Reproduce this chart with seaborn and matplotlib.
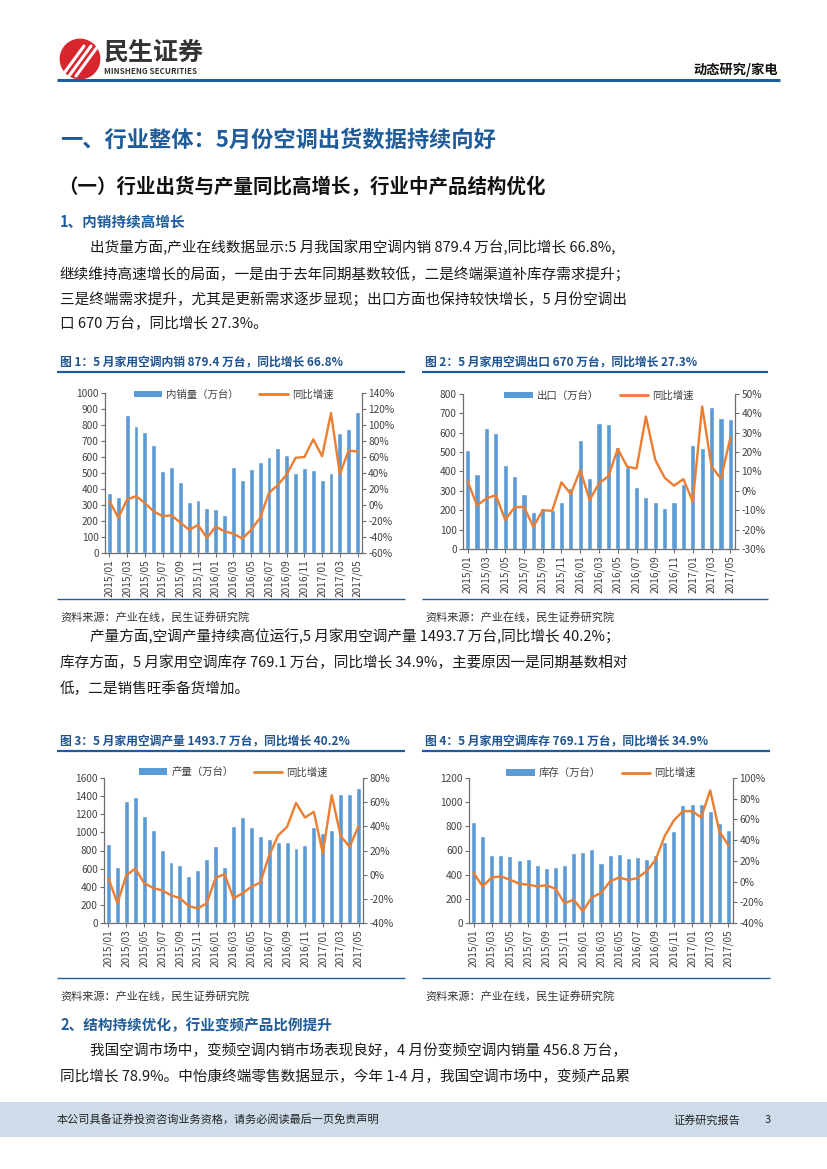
import numpy as np
import pandas as pd
import matplotlib
matplotlib.use("Agg")
import matplotlib.pyplot as plt
import matplotlib.ticker as mticker
from matplotlib.patches import Rectangle, Circle, Patch
from matplotlib.lines import Line2D
import seaborn as sns

# --- data ---
MONTHS = ["2015/01", "2015/02", "2015/03", "2015/04", "2015/05", "2015/06",
          "2015/07", "2015/08", "2015/09", "2015/10", "2015/11", "2015/12",
          "2016/01", "2016/02", "2016/03", "2016/04", "2016/05", "2016/06",
          "2016/07", "2016/08", "2016/09", "2016/10", "2016/11", "2016/12",
          "2017/01", "2017/02", "2017/03", "2017/04", "2017/05"]

domestic = [375, 350, 862, 792, 756, 673, 515, 535, 446, 317, 329, 281, 277, 235,
            537, 458, 525, 569, 598, 656, 612, 502, 531, 519, 454, 502, 750, 775, 879.4]
domestic_yoy = [5, -16, 7, 11, 2.5, -8, -14, -13, -22, -31, -25, -41, -27, -33,
                -36, -42, -31, -16, 15, 25, 38, 59, 60, 82, 61, 115, 39, 68, 66.8]

export = [511, 385, 625, 598, 432, 378, 283, 190, 211, 200, 240, 313, 565, 364,
          648, 645, 528, 425, 321, 266, 243, 214, 243, 333, 535, 522, 731, 677, 670]
export_yoy = [4.8, -7.5, -3.9, -2.2, -15, -8.5, -8.2, -18.6, -10, -10.3, 4.4, -1.6,
              10.8, -4.7, 3.9, 7.5, 21.7, 12.5, 11.5, 38.4, 16, 6.8, 2.7, 6.1,
              -5.6, 43.6, 12.5, 6.3, 27.3]

production = [868, 623, 1344, 1385, 1183, 1026, 806, 678, 637, 520, 582, 703, 850, 619,
              1073, 1165, 1062, 960, 923, 897, 890, 828, 857, 1062, 996, 1026, 1421,
              1428, 1493.7]
production_yoy = [-3, -23.6, -0.5, 5, -7, -11, -13, -17, -19.5, -26, -28, -23.6, -2.5,
                  0.3, -19.6, -15.5, -10, -6.5, 16, 32.5, 39.6, 59.4, 47.3, 52, 17.6,
                  65.7, 32, 23, 40.2]

inventory = [839, 723, 566, 560, 552, 524, 530, 483, 458, 463, 477, 582, 588, 610,
             497, 560, 571, 535, 549, 527, 560, 673, 761, 977, 985, 988, 930, 825, 769.1]
inventory_yoy = [8.3, -4.6, 4, 5, 1.8, -2, -3, -4.6, -3.6, -7, -21, -17.5, -28.7, -15.2,
                 -11, 0.2, 4, 1.5, 3.4, 10, 21, 44, 59, 68, 68, 62, 88, 48.5, 34.9]

# --- style ---
BAR = "#5B9BD5"
LINE = "#ED7D31"
BLUE = "#1F5C99"
TITLE_BLUE = "#1D5390"
AXIS = "#6E6E6E"
TEXT = "#404040"
BODY = "#1A1A1A"

sns.set_theme(style="white")
plt.rcParams["font.family"] = ["Noto Sans CJK SC", "DejaVu Sans"]
plt.rcParams["axes.unicode_minus"] = False

W, H = 827, 1169
fig = plt.figure(figsize=(8.27, 11.69), dpi=100)
fig.patch.set_facecolor("white")

# page layer in pixel coordinates
bg = fig.add_axes([0, 0, 1, 1])
bg.set_xlim(0, W)
bg.set_ylim(H, 0)
bg.axis("off")


def txt(x, y, s, size, color=BODY, weight="normal", ha="left"):
    bg.text(x, y, s, fontsize=size, color=color, fontweight=weight, ha=ha, va="center")


def hline(x0, x1, y, lw, color=BLUE):
    bg.plot([x0, x1], [y, y], color=color, lw=lw, solid_capstyle="butt")


# --- header ---
bg.add_patch(Circle((80, 59), 19, color="#D7262D"))
for dx in (-7, 0, 7):
    bg.plot([69 + dx, 91 + dx], [76, 46], color="white", lw=2.2, solid_capstyle="round")
bg.add_patch(Circle((80, 59), 19, fill=False, ec="#D7262D", lw=2))
txt(104, 53, "民生证券", 18, color="#333333", weight="bold")
txt(104, 71.5, "MINSHENG SECURITIES", 5.8, color="#333333", weight="bold")
txt(778, 70, "动态研究/家电", 9.5, color="#111111", weight="bold", ha="right")
hline(57, 780, 80, 2.2)

# --- headings & paragraphs ---
txt(60, 140, "一、行业整体：5月份空调出货数据持续向好", 16, color=BLUE, weight="bold")
txt(58, 187, "（一）行业出货与产量同比高增长，行业中产品结构优化", 14, color="#111111", weight="bold")
txt(60, 222, "1、内销持续高增长", 10.5, color=BLUE, weight="bold")

para1 = ["出货量方面,产业在线数据显示:5 月我国家用空调内销 879.4 万台,同比增长 66.8%,",
         "继续维持高速增长的局面，一是由于去年同期基数较低，二是终端渠道补库存需求提升；",
         "三是终端需求提升，尤其是更新需求逐步显现；出口方面也保持较快增长，5 月份空调出",
         "口 670 万台，同比增长 27.3%。"]
for i, (y, line) in enumerate(zip([248, 274, 299, 324], para1)):
    txt(90 if i == 0 else 60, y, line, 10.5)

para2 = ["产量方面,空调产量持续高位运行,5 月家用空调产量 1493.7 万台,同比增长 40.2%；",
         "库存方面，5 月家用空调库存 769.1 万台，同比增长 34.9%，主要原因一是同期基数相对",
         "低，二是销售旺季备货增加。"]
for i, (y, line) in enumerate(zip([637, 663, 689], para2)):
    txt(90 if i == 0 else 60, y, line, 10.5)

txt(60, 1025, "2、结构持续优化，行业变频产品比例提升", 10.5, color=BLUE, weight="bold")
para3 = ["我国空调市场中，变频空调内销市场表现良好，4 月份变频空调内销量 456.8 万台，",
         "同比增长 78.9%。中怡康终端零售数据显示，今年 1-4 月，我国空调市场中，变频产品累"]
for i, (y, line) in enumerate(zip([1051, 1077], para3)):
    txt(90 if i == 0 else 60, y, line, 10.5)

# --- chart frames: titles, rules, sources ---
frames = [
    (57, 405, 60, 362, 372, 599, 617, "图 1：5 月家用空调内销 879.4 万台，同比增长 66.8%"),
    (422, 768, 425, 362, 372, 599, 617, "图 2：5 月家用空调出口 670 万台，同比增长 27.3%"),
    (57, 405, 60, 741, 751, 978, 996, "图 3：5 月家用空调产量 1493.7 万台，同比增长 40.2%"),
    (422, 770, 425, 741, 751, 978, 996, "图 4：5 月家用空调库存 769.1 万台，同比增长 34.9%"),
]
for x0, x1, tx, ty, y_top, y_bot, y_src, title in frames:
    txt(tx, ty, title, 8.5, color=TITLE_BLUE, weight="bold")
    hline(x0, x1, y_top, 1.6)
    hline(x0, x1, y_bot, 1.0)
    txt(tx, y_src, "资料来源：产业在线，民生证券研究院", 8, color="#333333")

# --- footer ---
bg.add_patch(Rectangle((0, 1102), W, 35, color="#CEDCEA", lw=0))
txt(57, 1120, "本公司具备证券投资咨询业务资格，请务必阅读最后一页免责声明", 8, color="#222222")
txt(673, 1120, "证券研究报告", 8, color="#222222")
txt(768, 1120, "3", 8, color="#222222", ha="center")


def px_rect(left, right, top, bottom):
    return [left / W, 1 - bottom / H, (right - left) / W, (bottom - top) / H]


def draw_chart(rect, values, yoy, bar_label, ymax, ystep, pmin, pmax, pstep, legend_y):
    ax = fig.add_axes(rect)
    df = pd.DataFrame({"month": MONTHS, "value": values, "yoy": yoy})
    sns.barplot(data=df, x="month", y="value", color=BAR, saturation=1,
                width=0.55, ax=ax)
    ax2 = ax.twinx()
    sns.lineplot(x=np.arange(len(MONTHS)), y=df["yoy"].values, color=LINE,
                 lw=1.7, ax=ax2)

    ax.set_xlim(-0.5, len(MONTHS) - 0.5)
    ax.set_ylim(0, ymax)
    ax.set_yticks(np.arange(0, ymax + 1, ystep))
    ax2.set_ylim(pmin, pmax)
    ax2.set_yticks(np.arange(pmin, pmax + 1, pstep))
    ax2.yaxis.set_major_formatter(mticker.FuncFormatter(lambda v, p: f"{v:.0f}%"))

    ax.set_xticks(range(0, len(MONTHS), 2))
    ax.set_xticklabels(MONTHS[::2], rotation=90)
    ax.set_xlabel("")
    ax.set_ylabel("")
    ax2.set_ylabel("")

    for a in (ax, ax2):
        for s in a.spines.values():
            s.set_color(AXIS)
            s.set_linewidth(0.9)
        a.spines["top"].set_visible(False)
    ax.spines["right"].set_visible(False)
    ax2.spines["left"].set_visible(False)
    ax2.spines["bottom"].set_visible(False)

    ax.tick_params(axis="both", left=True, bottom=True, direction="out", length=3,
                   width=0.8, color=AXIS, labelsize=7.3, labelcolor=TEXT, pad=1.5)
    ax2.tick_params(axis="y", right=True, direction="out", length=3, width=0.8,
                    color=AXIS, labelsize=7.3, labelcolor=TEXT, pad=1.5)

    handles = [Patch(facecolor=BAR, edgecolor="none"),
               Line2D([], [], color=LINE, lw=2)]
    leg = ax.legend(handles, [bar_label, "同比增速"], loc="center",
                    bbox_to_anchor=(0.5, legend_y), ncol=2, frameon=False,
                    fontsize=7.5, handlelength=2.7, handleheight=0.6,
                    columnspacing=2.0, handletextpad=0.4)
    for t in leg.get_texts():
        t.set_color(TEXT)
    ax2.set_zorder(ax.get_zorder() + 1)
    return ax, ax2


draw_chart(px_rect(105, 362, 393, 553), domestic, domestic_yoy, "内销量（万台）",
           1000, 100, -60, 140, 20, 0.99)
draw_chart(px_rect(463, 735, 394, 549), export, export_yoy, "出口（万台）",
           800, 100, -30, 50, 10, 0.99)
draw_chart(px_rect(104, 363, 778, 923), production, production_yoy, "产量（万台）",
           1600, 200, -40, 80, 20, 1.04)
draw_chart(px_rect(469, 733, 778, 923), inventory, inventory_yoy, "库存（万台）",
           1200, 200, -40, 100, 20, 1.035)

fig.savefig("out.png", dpi=100)
